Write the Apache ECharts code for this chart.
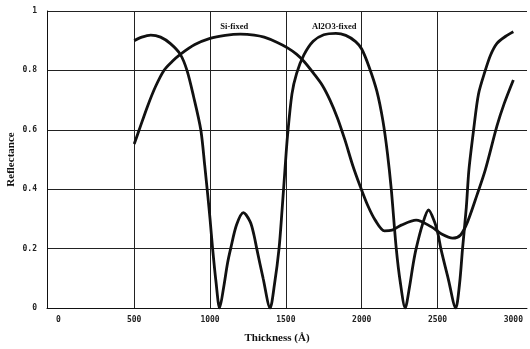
<!DOCTYPE html>
<html><head><meta charset="utf-8">
<script src="https://cdn.jsdelivr.net/npm/echarts@6/dist/echarts.min.js"></script>
<style>html,body{margin:0;padding:0;background:#fff}#c{width:530px;height:349px}</style>
</head><body><div id="c"></div>
<script>
// Thickness (Å) and reflectance, Al2O3-fixed curve
const al2o3X = [500,550,609,674,739,804,848,891,939,965,985,1000,1017,1040,1063,1090,1115,1136,1175,1220,1265,1290,1308,1350,1396,1425,1455,1475,1494,1511,1540,1571,1619,1680,1750,1830,1895,1960,2000,2050,2100,2140,2170,2195,2228,2255,2287,2315,2340,2359,2400,2441,2480,2505,2522,2570,2620,2645,2665,2690,2707,2738,2770,2815,2850,2892,2950,3000];
const al2o3Y = [0.90,0.912,0.919,0.912,0.89,0.854,0.80,0.713,0.60,0.48,0.38,0.30,0.20,0.085,0.0,0.07,0.15,0.20,0.28,0.321,0.29,0.245,0.20,0.10,0.0,0.08,0.20,0.33,0.465,0.58,0.72,0.79,0.852,0.898,0.92,0.925,0.918,0.897,0.872,0.81,0.73,0.63,0.52,0.40,0.20,0.085,0.0,0.07,0.15,0.20,0.28,0.33,0.29,0.245,0.20,0.10,0.0,0.08,0.20,0.34,0.465,0.60,0.72,0.80,0.852,0.891,0.915,0.93];
// Si-fixed curve
const siX = [500,533,587,640,696,750,804,900,1000,1100,1200,1291,1357,1440,1511,1570,1620,1683,1740,1791,1840,1890,1941,1990,2040,2090,2150,2200,2261,2359,2457,2530,2600,2652,2698,2760,2815,2892,2940,3000];
const siY = [0.552,0.60,0.678,0.745,0.80,0.83,0.854,0.887,0.908,0.918,0.922,0.919,0.912,0.895,0.876,0.855,0.83,0.79,0.75,0.70,0.64,0.565,0.48,0.41,0.345,0.295,0.26,0.262,0.279,0.296,0.274,0.248,0.235,0.246,0.29,0.38,0.465,0.613,0.689,0.768];
const xLabelValues = [0,500,1000,1500,2000,2500,3000];
const xGridValues = [500,1000,1500,2000,2500];
const curveNames = ['Al2O3-fixed','Si-fixed'];
const namePos = [[1819,0.946],[1160,0.946]];

const zip = (xs, ys) => xs.map((x, i) => [x, ys[i]]);
const chart = echarts.init(document.getElementById('c'), null, {renderer:'canvas'});
const tickFont = {fontFamily:'DejaVu Sans Mono', fontSize:8, fontWeight:'bold', color:'#222'};
chart.setOption({
  animation:false,
  backgroundColor:'#fff',
  grid:{left:47, right:3, top:11, bottom:41, show:false, containLabel:false, outerBoundsMode:'none'},
  xAxis:{
    type:'value', min:-75, max:3090,
    name:'Thickness (Å)', nameLocation:'middle', nameGap:25, nameMoveOverlap:false,
    nameTextStyle:{fontFamily:'Liberation Serif', fontWeight:'bold', fontSize:11, color:'#111', padding:[0,20,0,0]},
    axisLine:{show:true, onZero:false, lineStyle:{color:'#111', width:1}},
    axisTick:{show:false, customValues:xGridValues},
    axisLabel:Object.assign({customValues:xLabelValues, margin:8, formatter:v => String(v)}, tickFont),
    splitLine:{show:true, lineStyle:{color:'#222', width:1}}
  },
  yAxis:{
    type:'value', min:0, max:1, interval:0.2,
    name:'Reflectance', nameLocation:'middle', nameGap:30, nameRotate:90, nameMoveOverlap:false,
    nameTextStyle:{fontFamily:'Liberation Serif', fontWeight:'bold', fontSize:11, color:'#111'},
    axisLine:{show:true, onZero:false, lineStyle:{color:'#111', width:1}},
    axisTick:{show:false},
    axisLabel:Object.assign({margin:10, formatter:v => (v===0||v===1) ? String(v) : v.toFixed(1)}, tickFont),
    splitLine:{show:true, lineStyle:{color:'#222', width:1}}
  },
  series:[
    {type:'line', name:curveNames[0], data:zip(al2o3X, al2o3Y), smooth:0.3, symbol:'none',
     lineStyle:{color:'#111', width:2.8},
     markPoint:{symbol:'circle', symbolSize:0, data:[{coord:namePos[0]}],
       label:{show:true, formatter:curveNames[0], position:'inside', fontFamily:'Liberation Serif', fontSize:8.5, fontWeight:'bold', color:'#111'}}},
    {type:'line', name:curveNames[1], data:zip(siX, siY), smooth:0.3, symbol:'none',
     lineStyle:{color:'#111', width:2.8},
     markPoint:{symbol:'circle', symbolSize:0, data:[{coord:namePos[1]}],
       label:{show:true, formatter:curveNames[1], position:'inside', fontFamily:'Liberation Serif', fontSize:8.5, fontWeight:'bold', color:'#111'}}}
  ]
});
</script></body></html>
